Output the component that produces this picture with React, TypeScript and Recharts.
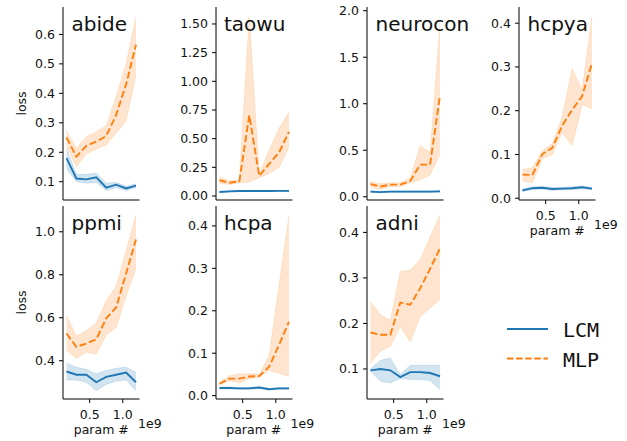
import React from "react";
import { ComposedChart, Area, Line, XAxis, YAxis } from "recharts";

// parameter count, in units of 1e9
const params = [0.15, 0.3, 0.45, 0.6, 0.75, 0.9, 1.05, 1.2];

// abide
const abideLcm = [0.18, 0.111, 0.108, 0.115, 0.08, 0.09, 0.077, 0.087];
const abideLcmLo = [0.145, 0.1, 0.095, 0.097, 0.07, 0.08, 0.07, 0.08];
const abideLcmHi = [0.213, 0.125, 0.125, 0.13, 0.095, 0.098, 0.085, 0.093];
const abideMlp = [0.25, 0.185, 0.222, 0.236, 0.255, 0.327, 0.43, 0.565];
const abideMlpLo = [0.22, 0.15, 0.194, 0.21, 0.225, 0.265, 0.305, 0.463];
const abideMlpHi = [0.272, 0.213, 0.253, 0.27, 0.29, 0.39, 0.5, 0.66];

// taowu
const taowuLcm = [0.035, 0.04, 0.043, 0.044, 0.044, 0.044, 0.045, 0.045];
const taowuLcmLo = [0.03, 0.035, 0.038, 0.039, 0.039, 0.039, 0.04, 0.04];
const taowuLcmHi = [0.04, 0.045, 0.048, 0.049, 0.049, 0.049, 0.05, 0.05];
const taowuMlp = [0.137, 0.115, 0.128, 0.705, 0.175, 0.28, 0.38, 0.56];
const taowuMlpLo = [0.11, 0.1, 0.115, 0.122, 0.16, 0.195, 0.25, 0.43];
const taowuMlpHi = [0.165, 0.13, 0.14, 1.565, 0.19, 0.4, 0.59, 0.73];

// neurocon
const neuroconLcm = [0.055, 0.05, 0.055, 0.055, 0.055, 0.055, 0.055, 0.058];
const neuroconLcmLo = [0.047, 0.042, 0.047, 0.047, 0.047, 0.047, 0.047, 0.05];
const neuroconLcmHi = [0.063, 0.058, 0.063, 0.063, 0.063, 0.063, 0.063, 0.066];
const neuroconMlp = [0.135, 0.11, 0.13, 0.13, 0.17, 0.345, 0.345, 1.09];
const neuroconMlpLo = [0.105, 0.08, 0.11, 0.11, 0.15, 0.18, 0.233, 0.46];
const neuroconMlpHi = [0.16, 0.14, 0.15, 0.15, 0.2, 0.548, 0.48, 1.86];

// hcpya
const hcpyaLcm = [0.018, 0.023, 0.024, 0.021, 0.022, 0.023, 0.025, 0.022];
const hcpyaLcmLo = [0.015, 0.02, 0.021, 0.018, 0.019, 0.02, 0.022, 0.019];
const hcpyaLcmHi = [0.021, 0.026, 0.027, 0.024, 0.025, 0.026, 0.028, 0.025];
const hcpyaMlp = [0.054, 0.053, 0.101, 0.115, 0.166, 0.202, 0.233, 0.309];
const hcpyaMlpLo = [0.04, 0.035, 0.09, 0.1, 0.15, 0.12, 0.215, 0.204];
const hcpyaMlpHi = [0.065, 0.07, 0.108, 0.125, 0.187, 0.296, 0.248, 0.417];

// ppmi
const ppmiLcm = [0.35, 0.335, 0.335, 0.3, 0.325, 0.335, 0.345, 0.3];
const ppmiLcmLo = [0.31, 0.31, 0.3, 0.26, 0.29, 0.305, 0.31, 0.26];
const ppmiLcmHi = [0.39, 0.37, 0.36, 0.34, 0.355, 0.365, 0.37, 0.345];
const ppmiMlp = [0.527, 0.465, 0.48, 0.5, 0.597, 0.648, 0.806, 0.964];
const ppmiMlpLo = [0.45, 0.41, 0.44, 0.43, 0.52, 0.555, 0.7, 0.83];
const ppmiMlpHi = [0.61, 0.515, 0.54, 0.575, 0.68, 0.745, 0.91, 1.08];

// hcpa
const hcpaLcm = [0.018, 0.018, 0.017, 0.017, 0.019, 0.015, 0.017, 0.017];
const hcpaLcmLo = [0.016, 0.016, 0.015, 0.015, 0.017, 0.013, 0.015, 0.015];
const hcpaLcmHi = [0.02, 0.02, 0.019, 0.019, 0.021, 0.017, 0.019, 0.019];
const hcpaMlp = [0.028, 0.04, 0.04, 0.045, 0.046, 0.068, 0.12, 0.174];
const hcpaMlpLo = [0.025, 0.035, 0.03, 0.04, 0.043, 0.06, 0.052, 0.045];
const hcpaMlpHi = [0.032, 0.047, 0.051, 0.052, 0.05, 0.095, 0.26, 0.425];

// adni
const adniLcm = [0.097, 0.1, 0.097, 0.082, 0.093, 0.093, 0.091, 0.084];
const adniLcmLo = [0.095, 0.073, 0.069, 0.079, 0.077, 0.077, 0.074, 0.055];
const adniLcmHi = [0.1, 0.119, 0.124, 0.088, 0.108, 0.108, 0.108, 0.108];
const adniMlp = [0.18, 0.175, 0.175, 0.246, 0.241, 0.277, 0.32, 0.365];
const adniMlpLo = [0.113, 0.139, 0.15, 0.193, 0.16, 0.215, 0.234, 0.253];
const adniMlpHi = [0.248, 0.219, 0.207, 0.314, 0.317, 0.34, 0.39, 0.438];

const xTicks = [0.5, 1.0];

const BLUE = "#1f77b4";
const ORANGE = "#ff7f0e";
const FONT = "DejaVu Sans, sans-serif";

// layout (px)
const PW = 76.5;
const PH = 193;
const COLS = [63, 215.5, 367, 519];
const ROWS = [7, 206];
const YW = 50;
const MT = 10;
const MR = 40;
const XH = 45;
const XDOMAIN: [number, number] = [0.0975, 1.2525];

const panels = [
  { name: "abide", lcm: abideLcm, lcmLo: abideLcmLo, lcmHi: abideLcmHi, mlp: abideMlp, mlpLo: abideMlpLo, mlpHi: abideMlpHi,
    domain: [0.038, 0.693], ticks: [0.1, 0.2, 0.3, 0.4, 0.5, 0.6], digits: 1, col: 0, row: 0, xLabels: false },
  { name: "taowu", lcm: taowuLcm, lcmLo: taowuLcmLo, lcmHi: taowuLcmHi, mlp: taowuMlp, mlpLo: taowuMlpLo, mlpHi: taowuMlpHi,
    domain: [-0.035, 1.648], ticks: [0, 0.25, 0.5, 0.75, 1.0, 1.25, 1.5], digits: 2, col: 1, row: 0, xLabels: false },
  { name: "neurocon", lcm: neuroconLcm, lcmLo: neuroconLcmLo, lcmHi: neuroconLcmHi, mlp: neuroconMlp, mlpLo: neuroconMlpLo, mlpHi: neuroconMlpHi,
    domain: [-0.035, 2.04], ticks: [0, 0.5, 1.0, 1.5, 2.0], digits: 1, col: 2, row: 0, xLabels: false },
  { name: "hcpya", lcm: hcpyaLcm, lcmLo: hcpyaLcmLo, lcmHi: hcpyaLcmHi, mlp: hcpyaMlp, mlpLo: hcpyaMlpLo, mlpHi: hcpyaMlpHi,
    domain: [-0.004, 0.437], ticks: [0, 0.1, 0.2, 0.3, 0.4], digits: 1, col: 3, row: 0, xLabels: true },
  { name: "ppmi", lcm: ppmiLcm, lcmLo: ppmiLcmLo, lcmHi: ppmiLcmHi, mlp: ppmiMlp, mlpLo: ppmiMlpLo, mlpHi: ppmiMlpHi,
    domain: [0.222, 1.12], ticks: [0.4, 0.6, 0.8, 1.0], digits: 1, col: 0, row: 1, xLabels: true },
  { name: "hcpa", lcm: hcpaLcm, lcmLo: hcpaLcmLo, lcmHi: hcpaLcmHi, mlp: hcpaMlp, mlpLo: hcpaMlpLo, mlpHi: hcpaMlpHi,
    domain: [-0.008, 0.447], ticks: [0, 0.1, 0.2, 0.3, 0.4], digits: 1, col: 1, row: 1, xLabels: true },
  { name: "adni", lcm: adniLcm, lcmLo: adniLcmLo, lcmHi: adniLcmHi, mlp: adniMlp, mlpLo: adniMlpLo, mlpHi: adniMlpHi,
    domain: [0.034, 0.458], ticks: [0.1, 0.2, 0.3, 0.4], digits: 1, col: 2, row: 1, xLabels: true },
];

type P = (typeof panels)[number];

const tickStyle = { fill: "#111", fontSize: 12.5, fontFamily: FONT };

function SubPlot({ p }: { p: P }) {
  const data = params.map((x, i) => ({
    x,
    lcm: p.lcm[i],
    lcmBand: [p.lcmLo[i], p.lcmHi[i]],
    mlp: p.mlp[i],
    mlpBand: [p.mlpLo[i], p.mlpHi[i]],
  }));
  return (
    <div style={{ position: "absolute", left: COLS[p.col] - YW, top: ROWS[p.row] - MT }}>
      <ComposedChart
        width={YW + PW + MR}
        height={MT + PH + XH}
        data={data}
        margin={{ top: MT, right: MR, bottom: 0, left: 0 }}
      >
        <XAxis
          dataKey="x"
          type="number"
          domain={XDOMAIN}
          ticks={xTicks}
          interval={0}
          allowDataOverflow
          height={XH}
          tickFormatter={(v: number) => v.toFixed(1)}
          tick={p.xLabels ? tickStyle : false}
          tickLine={p.xLabels ? { stroke: "#000" } : false}
          tickSize={4}
          tickMargin={7}
          axisLine={{ stroke: "#000" }}
        />
        <YAxis
          type="number"
          domain={p.domain as [number, number]}
          ticks={p.ticks}
          interval={0}
          allowDataOverflow
          width={YW}
          tickFormatter={(v: number) => v.toFixed(p.digits)}
          tick={tickStyle}
          tickLine={{ stroke: "#000" }}
          tickSize={4}
          tickMargin={4}
          axisLine={{ stroke: "#000" }}
        />
        <Area dataKey="lcmBand" type="linear" stroke={BLUE} strokeOpacity={0.15} fill={BLUE} fillOpacity={0.2} isAnimationActive={false} />
        <Line dataKey="lcm" type="linear" stroke={BLUE} strokeWidth={1.9} dot={false} isAnimationActive={false} />
        <Area dataKey="mlpBand" type="linear" stroke={ORANGE} strokeOpacity={0.15} fill={ORANGE} fillOpacity={0.2} isAnimationActive={false} />
        <Line dataKey="mlp" type="linear" stroke={ORANGE} strokeWidth={1.9} strokeDasharray="7 3" dot={false} isAnimationActive={false} />
      </ComposedChart>
    </div>
  );
}

function Overlay() {
  return (
    <svg width={627} height={441} style={{ position: "absolute", left: 0, top: 0, pointerEvents: "none" }}>
      {panels.map((p) => (
        <text key={p.name} x={COLS[p.col] + 8.5} y={ROWS[p.row] + 23.5} fontFamily={FONT} fontSize={20} fill="#111">
          {p.name}
        </text>
      ))}
      {ROWS.map((top) => (
        <text
          key={"loss" + top}
          x={26}
          y={top + PH / 2}
          transform={`rotate(-90 26 ${top + PH / 2})`}
          textAnchor="middle"
          fontFamily={FONT}
          fontSize={12.5}
          fill="#111"
        >
          loss
        </text>
      ))}
      {panels
        .filter((p) => p.xLabels)
        .map((p) => {
          const bottom = ROWS[p.row] + PH;
          const left = COLS[p.col];
          return (
            <g key={"xl" + p.name}>
              <text x={left + PW / 2} y={bottom + 34.5} textAnchor="middle" fontFamily={FONT} fontSize={12.5} fill="#111">
                param #
              </text>
              <text x={left + PW - 1.5} y={bottom + 28.5} fontFamily={FONT} fontSize={12.5} fill="#111">
                1e9
              </text>
            </g>
          );
        })}
      <line x1={507} x2={548} y1={329} y2={329} stroke={BLUE} strokeWidth={1.9} />
      <line x1={507} x2={548} y1={358.5} y2={358.5} stroke={ORANGE} strokeWidth={1.9} strokeDasharray="6.5 2.6" />
      <text x={563} y={337} fontFamily="DejaVu Sans Mono, monospace" fontSize={20} fill="#111">
        LCM
      </text>
      <text x={563} y={366.5} fontFamily="DejaVu Sans Mono, monospace" fontSize={20} fill="#111">
        MLP
      </text>
    </svg>
  );
}

export default function App() {
  return (
    <div style={{ position: "absolute", left: 0, top: 0, width: 627, height: 441, background: "#fff" }}>
      {panels.map((p) => (
        <SubPlot key={p.name} p={p} />
      ))}
      <Overlay />
    </div>
  );
}
